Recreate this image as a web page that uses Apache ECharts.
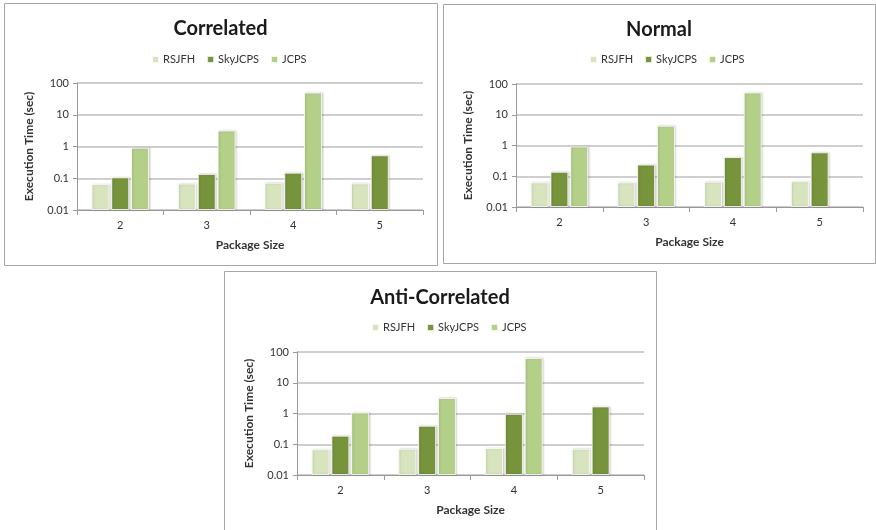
<!DOCTYPE html>
<html>
<head>
<meta charset="utf-8">
<script src="https://cdn.jsdelivr.net/npm/echarts@6/dist/echarts.min.js"></script>
<style>
html,body{margin:0;padding:0;background:#fff;}
#c{width:876px;height:530px;}
</style>
</head>
<body>
<div id="c"></div>
<script>
var categories = ['2', '3', '4', '5'];
var seriesNames = ['RSJFH', 'SkyJCPS', 'JCPS'];
var yTicks = ['0.01', '0.1', '1', '10', '100'];

var correlatedRSJFH = [0.065, 0.068, 0.072, 0.069];
var correlatedSky = [0.107, 0.137, 0.15, 0.53];
var correlatedJCPS = [0.92, 3.2, 50, null];

var normalRSJFH = [0.063, 0.063, 0.066, 0.068];
var normalSky = [0.14, 0.24, 0.42, 0.6];
var normalJCPS = [0.93, 4.4, 53, null];

var antiRSJFH = [0.068, 0.071, 0.075, 0.071];
var antiSky = [0.19, 0.40, 0.98, 1.7];
var antiJCPS = [1.08, 3.2, 64, null];

var panelTitles = ['Correlated', 'Normal', 'Anti-Correlated'];
var colors = ['#d7e4bd', '#77933c', '#b3cf88'];
var FONT = 'Lato, "Open Sans", sans-serif';

// log10 position above the 0.01 floor of the axis
function toLogPos(v){ return v === null ? '-' : Math.log10(v) + 2; }

var panels = [
  {box:[4,3,433,262], grid:{left:77, top:83, width:346, height:127}, data:[correlatedRSJFH, correlatedSky, correlatedJCPS], titleY:14, legendX:151, legendY:54},
  {box:[443,4,432,259], grid:{left:516, top:84, width:347, height:123}, data:[normalRSJFH, normalSky, normalJCPS], titleY:15, legendX:589, legendY:54},
  {box:[224,271,432,264], grid:{left:297, top:352, width:347, height:123}, data:[antiRSJFH, antiSky, antiJCPS], titleY:283, legendX:371, legendY:322}
];

var option = {
  animation:false,
  backgroundColor:'#fff',
  color: colors,
  title: [], legend: [], grid: [], xAxis: [], yAxis: [], series: [], graphic: []
};

panels.forEach(function(p, i){
  option.graphic.push({type:'rect', shape:{x:p.box[0]+0.5, y:p.box[1]+0.5, width:p.box[2], height:p.box[3]}, style:{fill:null, stroke:'#a6a6a6', lineWidth:1}, z:-1});
  var centerX = p.box[0] + p.box[2]/2 - 5;
  option.title.push({text: panelTitles[i], left: centerX, top: p.titleY, textAlign:'center',
    textStyle:{fontFamily:FONT, fontSize:20, fontWeight:'bold', color:'#1a1a1a'}});
  option.legend.push({data: seriesNames.slice(), left: p.legendX, top: p.legendY,
    itemWidth:7, itemHeight:7, itemGap:11, icon:'rect', orient:'horizontal', padding:0,
    textStyle:{fontFamily:FONT, fontSize:11, color:'#333', padding:[0,0,0,-1]}});
  option.grid.push({left:p.grid.left, top:p.grid.top, width:p.grid.width, height:p.grid.height, containLabel:false});
  option.xAxis.push({type:'category', gridIndex:i, data:categories, name:'Package Size', nameLocation:'middle', nameGap:29,
    nameTextStyle:{fontFamily:FONT, fontSize:12, fontWeight:'bold', color:'#333'},
    axisLine:{lineStyle:{color:'#9a9a9a', width:1}}, axisTick:{show:true, length:5, lineStyle:{color:'#9a9a9a'}},
    axisLabel:{fontFamily:FONT, fontSize:11, color:'#333', margin:10}});
  option.yAxis.push({type:'value', gridIndex:i, min:0, max:yTicks.length-1, interval:1, name:'Execution Time (sec)', nameLocation:'middle', nameGap:42,
    nameTextStyle:{fontFamily:FONT, fontSize:12, fontWeight:'bold', color:'#333'},
    axisLine:{show:true, lineStyle:{color:'#9a9a9a'}}, axisTick:{show:true, length:4, lineStyle:{color:'#9a9a9a'}},
    splitLine:{show:true, lineStyle:{color:'#bfbfbf', width:1.5}},
    axisLabel:{fontFamily:FONT, fontSize:11, color:'#333', margin:8, formatter:function(v){ return yTicks[Math.round(v)]; }}});
  seriesNames.forEach(function(name, k){
    option.series.push({type:'bar', name:name, xAxisIndex:i, yAxisIndex:i, data:p.data[k].map(toLogPos),
      barWidth:18, barGap:'10%',
      itemStyle:{color:colors[k], borderColor:'rgba(255,255,255,0.8)', borderWidth:1, shadowColor:'rgba(0,0,0,0.18)', shadowBlur:2, shadowOffsetX:1, shadowOffsetY:0}});
  });
});

var chart = echarts.init(document.getElementById('c'), null, {renderer:'canvas'});
chart.setOption(option);
</script>
</body>
</html>
